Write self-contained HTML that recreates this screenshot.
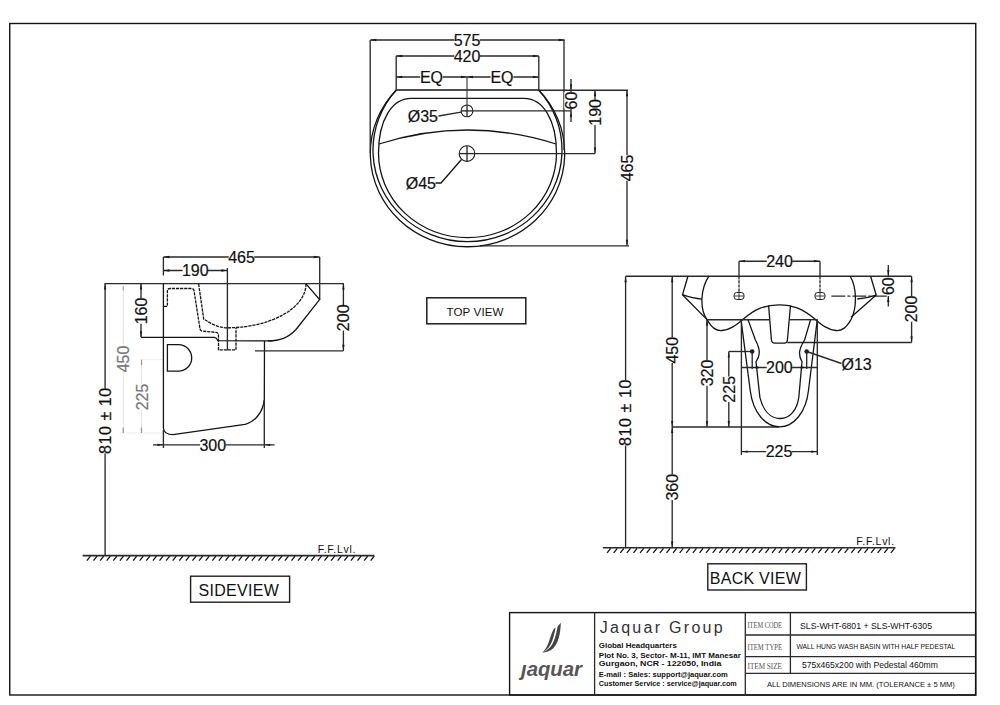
<!DOCTYPE html>
<html><head><meta charset="utf-8"><style>
html,body{margin:0;padding:0;background:#fff;}
svg{display:block;}
</style></head><body>
<svg width="1000" height="705" viewBox="0 0 1000 705">
<rect x="0" y="0" width="1000" height="705" fill="#fff"/>
<rect x="9.75" y="23.5" width="966" height="671.5" fill="none" stroke="#141414" stroke-width="1.4"/>
<path d="M396.4,90 L538.6,90 A97.2,93.2 0 1 1 396.4,90" fill="none" stroke="#141414" stroke-width="1.3" />
<path d="M396.2,90 A94.5,91.6 0 1 0 538.8,90" fill="none" stroke="#141414" stroke-width="1.3" />
<path d="M411,98.4 L524,98.4 C543,98.4 556.5,120 556.5,153 A89,84.7 0 0 1 378.5,153 C378.5,120 392,98.4 411,98.4 Z" fill="none" stroke="#141414" stroke-width="1.3" />
<path d="M379,144 Q467.5,116 556,144" fill="none" stroke="#141414" stroke-width="1.3" />
<circle cx="467" cy="110.9" r="5.9" fill="none" stroke="#1e1e1e" stroke-width="1.1"/>
<line x1="461.1" y1="110.9" x2="472.9" y2="110.9" stroke="#2a2a2a" stroke-width="1.35" />
<line x1="467" y1="105" x2="467" y2="116.8" stroke="#2a2a2a" stroke-width="1.35" />
<circle cx="467" cy="153.6" r="7.8" fill="none" stroke="#1e1e1e" stroke-width="1.1"/>
<line x1="459.2" y1="153.6" x2="474.8" y2="153.6" stroke="#2a2a2a" stroke-width="1.35" />
<line x1="467" y1="145.8" x2="467" y2="161.4" stroke="#2a2a2a" stroke-width="1.35" />
<line x1="467" y1="77" x2="467" y2="105.1" stroke="#333" stroke-width="1.1" />
<line x1="370.2" y1="40" x2="370.2" y2="153" stroke="#2a2a2a" stroke-width="1.35" />
<line x1="564" y1="40" x2="564" y2="150" stroke="#2a2a2a" stroke-width="1.35" />
<line x1="396.2" y1="56" x2="396.2" y2="90" stroke="#2a2a2a" stroke-width="1.35" />
<line x1="538.8" y1="56" x2="538.8" y2="90" stroke="#2a2a2a" stroke-width="1.35" />
<line x1="538.8" y1="90.2" x2="628" y2="90.2" stroke="#2a2a2a" stroke-width="1.35" />
<line x1="473" y1="110.8" x2="571" y2="110.8" stroke="#2a2a2a" stroke-width="1.35" />
<line x1="475" y1="153.6" x2="595" y2="153.6" stroke="#2a2a2a" stroke-width="1.35" />
<line x1="480" y1="245.8" x2="629" y2="245.8" stroke="#2a2a2a" stroke-width="1.35" />
<line x1="370.3" y1="40" x2="564.7" y2="40" stroke="#2a2a2a" stroke-width="1.35" />
<polygon points="370.3,40 376.3,38.85 376.3,41.15" fill="#1a1a1a"/>
<polygon points="564.7,40 558.7,38.85 558.7,41.15" fill="#1a1a1a"/>
<rect x="454.26" y="33.28" width="25.49" height="13.44" fill="#fff"/>
<text transform="translate(467,40) scale(1,1.0)" x="0" y="5.76" font-family="Liberation Sans" font-size="16" text-anchor="middle" fill="#111" stroke="#111" stroke-width="0.2">575</text>
<line x1="396.2" y1="56" x2="538.8" y2="56" stroke="#2a2a2a" stroke-width="1.35" />
<polygon points="396.2,56 402.2,54.85 402.2,57.15" fill="#1a1a1a"/>
<polygon points="538.8,56 532.8,54.85 532.8,57.15" fill="#1a1a1a"/>
<rect x="454.26" y="49.28" width="25.49" height="13.44" fill="#fff"/>
<text transform="translate(467,56) scale(1,1.0)" x="0" y="5.76" font-family="Liberation Sans" font-size="16" text-anchor="middle" fill="#111" stroke="#111" stroke-width="0.2">420</text>
<line x1="396.2" y1="77" x2="538.8" y2="77" stroke="#2a2a2a" stroke-width="1.35" />
<polygon points="396.2,77 402.2,75.85 402.2,78.15" fill="#1a1a1a"/>
<polygon points="538.8,77 532.8,75.85 532.8,78.15" fill="#1a1a1a"/>
<polygon points="467,77 461,75.85 461,78.15" fill="#1a1a1a"/>
<polygon points="467,77 473,75.85 473,78.15" fill="#1a1a1a"/>
<rect x="420.1" y="70.28" width="22.8" height="13.44" fill="#fff"/>
<text transform="translate(431.5,77) scale(1,1.0)" x="0" y="5.76" font-family="Liberation Sans" font-size="16" text-anchor="middle" fill="#111" stroke="#111" stroke-width="0.2">EQ</text>
<rect x="490.6" y="70.28" width="22.8" height="13.44" fill="#fff"/>
<text transform="translate(502,77) scale(1,1.0)" x="0" y="5.76" font-family="Liberation Sans" font-size="16" text-anchor="middle" fill="#111" stroke="#111" stroke-width="0.2">EQ</text>
<line x1="571" y1="79" x2="571" y2="122" stroke="#2a2a2a" stroke-width="1.35" />
<polygon points="571,90.2 569.85,84.2 572.15,84.2" fill="#1a1a1a"/>
<polygon points="571,111 569.85,117 572.15,117" fill="#1a1a1a"/>
<rect x="564.28" y="92.3" width="13.44" height="16.59" fill="#fff"/>
<text transform="translate(571,100.6) rotate(-90) scale(1,1.0)" x="0" y="5.76" font-family="Liberation Sans" font-size="16" text-anchor="middle" fill="#111" stroke="#111" stroke-width="0.2" >60</text>
<line x1="595" y1="90.2" x2="595" y2="153.6" stroke="#2a2a2a" stroke-width="1.35" />
<polygon points="595,90.2 593.85,96.2 596.15,96.2" fill="#1a1a1a"/>
<polygon points="595,153.6 593.85,147.6 596.15,147.6" fill="#1a1a1a"/>
<rect x="588.28" y="99.66" width="13.44" height="25.49" fill="#fff"/>
<text transform="translate(595,112.4) rotate(-90) scale(1,1.0)" x="0" y="5.76" font-family="Liberation Sans" font-size="16" text-anchor="middle" fill="#111" stroke="#111" stroke-width="0.2" >190</text>
<line x1="627" y1="90.2" x2="627" y2="245.8" stroke="#2a2a2a" stroke-width="1.35" />
<polygon points="627,90.2 625.85,96.2 628.15,96.2" fill="#1a1a1a"/>
<polygon points="627,245.8 625.85,239.8 628.15,239.8" fill="#1a1a1a"/>
<rect x="620.28" y="155.26" width="13.44" height="25.49" fill="#fff"/>
<text transform="translate(627,168) rotate(-90) scale(1,1.0)" x="0" y="5.76" font-family="Liberation Sans" font-size="16" text-anchor="middle" fill="#111" stroke="#111" stroke-width="0.2" >465</text>
<line x1="461" y1="112.2" x2="438.5" y2="116" stroke="#2a2a2a" stroke-width="1.35" />
<text transform="translate(438,121.6) scale(1,1.0)" x="0" y="0" font-family="Liberation Sans" font-size="16" text-anchor="end" fill="#111" stroke="#111" stroke-width="0.2">Ø35</text>
<path d="M461.5,159.5 L441,183 L435.5,183" fill="none" stroke="#141414" stroke-width="1.3" />
<text transform="translate(436,188.8) scale(1,1.0)" x="0" y="0" font-family="Liberation Sans" font-size="16" text-anchor="end" fill="#111" stroke="#111" stroke-width="0.2">Ø45</text>
<rect x="426.8" y="297.8" width="99" height="26" fill="none" stroke="#1e1e1e" stroke-width="1.5"/>
<text x="446.5" y="315.8" font-family="Liberation Sans" font-size="11.6" font-weight="normal" text-anchor="start" fill="#111" textLength="57" lengthAdjust="spacing">TOP VIEW</text>
<line x1="82.6" y1="555.6" x2="374.4" y2="555.6" stroke="#2a2a2a" stroke-width="1.6" />
<path d="M86.9,560.6L90.5,556.2M93.5,560.6L97.1,556.2M100.1,560.6L103.7,556.2M106.7,560.6L110.3,556.2M113.3,560.6L116.9,556.2M119.9,560.6L123.5,556.2M126.5,560.6L130.1,556.2M133.1,560.6L136.7,556.2M139.7,560.6L143.3,556.2M146.3,560.6L149.9,556.2M152.9,560.6L156.5,556.2M159.5,560.6L163.1,556.2M166.1,560.6L169.7,556.2M172.7,560.6L176.3,556.2M179.3,560.6L182.9,556.2M185.9,560.6L189.5,556.2M192.5,560.6L196.1,556.2M199.1,560.6L202.7,556.2M205.7,560.6L209.3,556.2M212.3,560.6L215.9,556.2M218.9,560.6L222.5,556.2M225.5,560.6L229.1,556.2M232.1,560.6L235.7,556.2M238.7,560.6L242.3,556.2M245.3,560.6L248.9,556.2M251.9,560.6L255.5,556.2M258.5,560.6L262.1,556.2M265.1,560.6L268.7,556.2M271.7,560.6L275.3,556.2M278.3,560.6L281.9,556.2M284.9,560.6L288.5,556.2M291.5,560.6L295.1,556.2M298.1,560.6L301.7,556.2M304.7,560.6L308.3,556.2M311.3,560.6L314.9,556.2M317.9,560.6L321.5,556.2M324.5,560.6L328.1,556.2M331.1,560.6L334.7,556.2M337.7,560.6L341.3,556.2M344.3,560.6L347.9,556.2M350.9,560.6L354.5,556.2M357.5,560.6L361.1,556.2M364.1,560.6L367.7,556.2M370.7,560.6L374.3,556.2" fill="none" stroke="#141414" stroke-width="1.3" />
<text x="317.8" y="552.6" font-family="Liberation Sans" font-size="10.5" font-weight="normal" text-anchor="start" fill="#111" textLength="37.6" lengthAdjust="spacing">F.F.Lvl.</text>
<line x1="105.1" y1="283.6" x2="105.1" y2="555.6" stroke="#2a2a2a" stroke-width="1.35" />
<polygon points="105.1,283.6 103.95,289.6 106.25,289.6" fill="#1a1a1a"/>
<rect x="98.38" y="388.5" width="13.44" height="64.8" fill="#fff"/>
<text transform="translate(105.1,420.9) rotate(-90) scale(1,1.0)" x="0" y="5.76" font-family="Liberation Sans" font-size="16" text-anchor="middle" fill="#111" stroke="#111" stroke-width="0.2" textLength="66" lengthAdjust="spacing">810 ± 10</text>
<line x1="104.5" y1="283.6" x2="343.8" y2="283.6" stroke="#2a2a2a" stroke-width="1.35" />
<line x1="123.3" y1="286" x2="123.3" y2="433" stroke="#e4e4e4" stroke-width="1.0" />
<rect x="116.78" y="346.26" width="13.44" height="25.49" fill="#fff"/>
<text transform="translate(123.5,359) rotate(-90) scale(1,1.0)" x="0" y="5.76" font-family="Liberation Sans" font-size="16" text-anchor="middle" fill="#777" stroke="#777" stroke-width="0.2" >450</text>
<line x1="141.5" y1="359.7" x2="141.5" y2="433" stroke="#e4e4e4" stroke-width="1.0" />
<rect x="135.28" y="384.26" width="13.44" height="25.49" fill="#fff"/>
<text transform="translate(142,397) rotate(-90) scale(1,1.0)" x="0" y="5.76" font-family="Liberation Sans" font-size="16" text-anchor="middle" fill="#777" stroke="#777" stroke-width="0.2" >225</text>
<line x1="141.5" y1="359.7" x2="163" y2="359.7" stroke="#ececec" stroke-width="1.0" />
<line x1="120" y1="433" x2="163" y2="433" stroke="#ececec" stroke-width="1.0" />
<line x1="123.3" y1="427.5" x2="123.3" y2="433" stroke="#999" stroke-width="1.3" />
<line x1="141.5" y1="427.5" x2="141.5" y2="433" stroke="#999" stroke-width="1.3" />
<line x1="141.5" y1="359.7" x2="141.5" y2="365" stroke="#999" stroke-width="1.3" />
<line x1="123.3" y1="286" x2="123.3" y2="290.5" stroke="#aaa" stroke-width="1.3" />
<line x1="141" y1="283.6" x2="141" y2="337.3" stroke="#2a2a2a" stroke-width="1.35" />
<polygon points="141,283.6 139.85,289.6 142.15,289.6" fill="#1a1a1a"/>
<polygon points="141,337.3 139.85,331.3 142.15,331.3" fill="#1a1a1a"/>
<rect x="134.78" y="298.26" width="13.44" height="25.49" fill="#fff"/>
<text transform="translate(141.5,311) rotate(-90) scale(1,1.0)" x="0" y="5.76" font-family="Liberation Sans" font-size="16" text-anchor="middle" fill="#111" stroke="#111" stroke-width="0.2" >160</text>
<path d="M141,337.3 L214.5,337.3 Q216.5,337.5 217.9,340.7 L272.4,340.9" fill="none" stroke="#141414" stroke-width="1.3" />
<path d="M163.4,283.6 L163.4,428 Q164,434.7 173,434.7 L245,424.3 C255,422 263,412 264.3,399.6 L264.5,340.9" fill="none" stroke="#141414" stroke-width="1.3" />
<line x1="163.4" y1="257" x2="163.4" y2="275.5" stroke="#2a2a2a" stroke-width="1.35" />
<line x1="319.7" y1="257" x2="319.7" y2="299.8" stroke="#2a2a2a" stroke-width="1.35" />
<line x1="163.4" y1="257" x2="319.7" y2="257" stroke="#2a2a2a" stroke-width="1.35" />
<polygon points="163.4,257 169.4,255.85 169.4,258.15" fill="#1a1a1a"/>
<polygon points="319.7,257 313.7,255.85 313.7,258.15" fill="#1a1a1a"/>
<rect x="228.76" y="250.28" width="25.49" height="13.44" fill="#fff"/>
<text transform="translate(241.5,257) scale(1,1.0)" x="0" y="5.76" font-family="Liberation Sans" font-size="16" text-anchor="middle" fill="#111" stroke="#111" stroke-width="0.2">465</text>
<line x1="163.4" y1="270.5" x2="227.4" y2="270.5" stroke="#2a2a2a" stroke-width="1.35" />
<polygon points="163.4,270.5 169.4,269.35 169.4,271.65" fill="#1a1a1a"/>
<polygon points="227.4,270.5 221.4,269.35 221.4,271.65" fill="#1a1a1a"/>
<rect x="182.56" y="263.78" width="25.49" height="13.44" fill="#fff"/>
<text transform="translate(195.3,270.5) scale(1,1.0)" x="0" y="5.76" font-family="Liberation Sans" font-size="16" text-anchor="middle" fill="#111" stroke="#111" stroke-width="0.2">190</text>
<line x1="227.4" y1="268" x2="227.4" y2="350.4" stroke="#2a2a2a" stroke-width="1.35" />
<path d="M306,283.8 L319.6,299.6 L296,329.5 C288,338 280,340.9 268,340.9" fill="none" stroke="#141414" stroke-width="1.3" />
<path d="M306,283.8 A79,44 0 0 1 227,327.8 C218,327.8 210,323 207,321 L203.7,319 L198.6,283.8" fill="none" stroke="#141414" stroke-width="1.3" stroke-dasharray="3.2,0.9"/>
<path d="M164,306.3 L167.4,306.3 L167.4,291 Q167.4,288.5 170,288.5 L191.5,288.5 Q193.5,288.5 194,290.5 L200,329 Q200.5,331 203,331.2 L216,332.4 Q218.5,332.8 218.5,335 L218.5,349.8 L236,349.8 L236,327.7" fill="none" stroke="#141414" stroke-width="1.3" stroke-dasharray="3.2,0.9"/>
<line x1="255" y1="350.8" x2="343.4" y2="350.8" stroke="#2a2a2a" stroke-width="1.35" />
<line x1="343.4" y1="283.6" x2="343.4" y2="350.8" stroke="#2a2a2a" stroke-width="1.35" />
<polygon points="343.4,283.6 342.25,289.6 344.55,289.6" fill="#1a1a1a"/>
<polygon points="343.4,350.8 342.25,344.8 344.55,344.8" fill="#1a1a1a"/>
<rect x="336.88" y="305.06" width="13.44" height="25.49" fill="#fff"/>
<text transform="translate(343.6,317.8) rotate(-90) scale(1,1.0)" x="0" y="5.76" font-family="Liberation Sans" font-size="16" text-anchor="middle" fill="#111" stroke="#111" stroke-width="0.2" >200</text>
<path d="M167.4,344.7 L178.5,344.7 A13.2,13.2 0 0 1 178.5,371.1 L167.4,371.1 Z" fill="none" stroke="#141414" stroke-width="1.3" />
<line x1="153" y1="444.8" x2="274.6" y2="444.8" stroke="#2a2a2a" stroke-width="1.35" />
<polygon points="163.4,444.8 157.4,443.65 157.4,445.95" fill="#1a1a1a"/>
<polygon points="264.3,444.8 270.3,443.65 270.3,445.95" fill="#1a1a1a"/>
<line x1="163.4" y1="430" x2="163.4" y2="448" stroke="#2a2a2a" stroke-width="1.35" />
<line x1="264.3" y1="400" x2="264.3" y2="448" stroke="#2a2a2a" stroke-width="1.35" />
<rect x="200.06" y="438.78" width="25.49" height="13.44" fill="#fff"/>
<text transform="translate(212.8,445.5) scale(1,1.0)" x="0" y="5.76" font-family="Liberation Sans" font-size="16" text-anchor="middle" fill="#111" stroke="#111" stroke-width="0.2">300</text>
<rect x="190.6" y="576.2" width="99" height="26" fill="none" stroke="#1e1e1e" stroke-width="1.4"/>
<text x="198.5" y="596" font-family="Liberation Sans" font-size="16" font-weight="normal" text-anchor="start" fill="#111" textLength="80.3" lengthAdjust="spacing">SIDEVIEW</text>
<line x1="602.8" y1="547.8" x2="895.5" y2="547.8" stroke="#2a2a2a" stroke-width="1.6" />
<path d="M607.1,552.8L610.7,548.4M613.7,552.8L617.3,548.4M620.3,552.8L623.9,548.4M626.9,552.8L630.5,548.4M633.5,552.8L637.1,548.4M640.1,552.8L643.7,548.4M646.7,552.8L650.3,548.4M653.3,552.8L656.9,548.4M659.9,552.8L663.5,548.4M666.5,552.8L670.1,548.4M673.1,552.8L676.7,548.4M679.7,552.8L683.3,548.4M686.3,552.8L689.9,548.4M692.9,552.8L696.5,548.4M699.5,552.8L703.1,548.4M706.1,552.8L709.7,548.4M712.7,552.8L716.3,548.4M719.3,552.8L722.9,548.4M725.9,552.8L729.5,548.4M732.5,552.8L736.1,548.4M739.1,552.8L742.7,548.4M745.7,552.8L749.3,548.4M752.3,552.8L755.9,548.4M758.9,552.8L762.5,548.4M765.5,552.8L769.1,548.4M772.1,552.8L775.7,548.4M778.7,552.8L782.3,548.4M785.3,552.8L788.9,548.4M791.9,552.8L795.5,548.4M798.5,552.8L802.1,548.4M805.1,552.8L808.7,548.4M811.7,552.8L815.3,548.4M818.3,552.8L821.9,548.4M824.9,552.8L828.5,548.4M831.5,552.8L835.1,548.4M838.1,552.8L841.7,548.4M844.7,552.8L848.3,548.4M851.3,552.8L854.9,548.4M857.9,552.8L861.5,548.4M864.5,552.8L868.1,548.4M871.1,552.8L874.7,548.4M877.7,552.8L881.3,548.4M884.3,552.8L887.9,548.4M890.9,552.8L894.5,548.4" fill="none" stroke="#141414" stroke-width="1.3" />
<text x="856.3" y="544.5" font-family="Liberation Sans" font-size="10.5" font-weight="normal" text-anchor="start" fill="#111" textLength="37.8" lengthAdjust="spacing">F.F.Lvl.</text>
<line x1="625.6" y1="276.2" x2="625.6" y2="547.8" stroke="#2a2a2a" stroke-width="1.35" />
<polygon points="625.6,276.2 624.45,282.2 626.75,282.2" fill="#1a1a1a"/>
<rect x="618.78" y="380.15" width="13.44" height="65.3" fill="#fff"/>
<text transform="translate(625.5,412.8) rotate(-90) scale(1,1.0)" x="0" y="5.76" font-family="Liberation Sans" font-size="16" text-anchor="middle" fill="#111" stroke="#111" stroke-width="0.2" textLength="66.5" lengthAdjust="spacing">810 ± 10</text>
<line x1="625.6" y1="276.2" x2="911.6" y2="276.2" stroke="#2a2a2a" stroke-width="1.35" />
<line x1="672.2" y1="276.2" x2="672.2" y2="547.5" stroke="#2a2a2a" stroke-width="1.35" />
<polygon points="672.2,276.2 671.05,282.2 673.35,282.2" fill="#1a1a1a"/>
<polygon points="672.2,427 671.05,421 673.35,421" fill="#1a1a1a"/>
<polygon points="672.2,427 671.05,433 673.35,433" fill="#1a1a1a"/>
<polygon points="672.2,547.5 671.05,541.5 673.35,541.5" fill="#1a1a1a"/>
<rect x="665.48" y="337.46" width="13.44" height="25.49" fill="#fff"/>
<text transform="translate(672.2,350.2) rotate(-90) scale(1,1.0)" x="0" y="5.76" font-family="Liberation Sans" font-size="16" text-anchor="middle" fill="#111" stroke="#111" stroke-width="0.2" >450</text>
<rect x="665.48" y="474.46" width="13.44" height="25.49" fill="#fff"/>
<text transform="translate(672.2,487.2) rotate(-90) scale(1,1.0)" x="0" y="5.76" font-family="Liberation Sans" font-size="16" text-anchor="middle" fill="#111" stroke="#111" stroke-width="0.2" >360</text>
<line x1="672.2" y1="427" x2="779" y2="427" stroke="#2a2a2a" stroke-width="1.35" />
<line x1="707" y1="319.6" x2="707" y2="427" stroke="#2a2a2a" stroke-width="1.35" />
<polygon points="707,319.6 705.85,325.6 708.15,325.6" fill="#1a1a1a"/>
<polygon points="707,427 705.85,421 708.15,421" fill="#1a1a1a"/>
<rect x="700.28" y="360.26" width="13.44" height="25.49" fill="#fff"/>
<text transform="translate(707,373) rotate(-90) scale(1,1.0)" x="0" y="5.76" font-family="Liberation Sans" font-size="16" text-anchor="middle" fill="#111" stroke="#111" stroke-width="0.2" >320</text>
<line x1="728.8" y1="351.5" x2="728.8" y2="427" stroke="#2a2a2a" stroke-width="1.35" />
<polygon points="728.8,351.5 727.65,357.5 729.95,357.5" fill="#1a1a1a"/>
<polygon points="728.8,427 727.65,421 729.95,421" fill="#1a1a1a"/>
<rect x="722.08" y="376.56" width="13.44" height="25.49" fill="#fff"/>
<text transform="translate(728.8,389.3) rotate(-90) scale(1,1.0)" x="0" y="5.76" font-family="Liberation Sans" font-size="16" text-anchor="middle" fill="#111" stroke="#111" stroke-width="0.2" >225</text>
<line x1="728.8" y1="351.5" x2="752.2" y2="351.5" stroke="#2a2a2a" stroke-width="1.35" />
<line x1="739" y1="261.2" x2="739" y2="276.2" stroke="#2a2a2a" stroke-width="1.35" />
<line x1="820" y1="261.2" x2="820" y2="276.2" stroke="#2a2a2a" stroke-width="1.35" />
<line x1="739" y1="261.2" x2="820" y2="261.2" stroke="#2a2a2a" stroke-width="1.35" />
<polygon points="739,261.2 745,260.05 745,262.35" fill="#1a1a1a"/>
<polygon points="820,261.2 814,260.05 814,262.35" fill="#1a1a1a"/>
<rect x="766.76" y="254.48" width="25.49" height="13.44" fill="#fff"/>
<text transform="translate(779.5,261.2) scale(1,1.0)" x="0" y="5.76" font-family="Liberation Sans" font-size="16" text-anchor="middle" fill="#111" stroke="#111" stroke-width="0.2">240</text>
<line x1="739" y1="276.2" x2="739" y2="292.5" stroke="#2a2a2a" stroke-width="1.35" stroke-dasharray="3.2,0.9"/>
<line x1="820" y1="276.2" x2="820" y2="292.5" stroke="#2a2a2a" stroke-width="1.35" stroke-dasharray="3.2,0.9"/>
<rect x="734" y="292.5" width="10" height="7" rx="2.8" fill="none" stroke="#1e1e1e" stroke-width="1"/>
<line x1="734" y1="296" x2="744" y2="296" stroke="#2a2a2a" stroke-width="0.9" />
<line x1="739" y1="292.5" x2="739" y2="299.5" stroke="#2a2a2a" stroke-width="0.9" />
<rect x="815" y="292.5" width="10" height="7" rx="2.8" fill="none" stroke="#1e1e1e" stroke-width="1"/>
<line x1="815" y1="296" x2="825" y2="296" stroke="#2a2a2a" stroke-width="0.9" />
<line x1="820" y1="292.5" x2="820" y2="299.5" stroke="#2a2a2a" stroke-width="0.9" />
<line x1="831.4" y1="296.1" x2="886.7" y2="296.1" stroke="#2a2a2a" stroke-width="1.35" stroke-dasharray="14,2,3,2"/>
<line x1="888.3" y1="265" x2="888.3" y2="276.2" stroke="#2a2a2a" stroke-width="1.35" />
<polygon points="888.3,276.2 887.15,270.2 889.45,270.2" fill="#1a1a1a"/>
<line x1="888.3" y1="296.1" x2="888.3" y2="306.5" stroke="#2a2a2a" stroke-width="1.35" />
<polygon points="888.3,296.1 887.15,302.1 889.45,302.1" fill="#1a1a1a"/>
<text transform="translate(888.3,286.2) rotate(-90) scale(1,1.0)" x="0" y="5.76" font-family="Liberation Sans" font-size="16" text-anchor="middle" fill="#111" stroke="#111" stroke-width="0.2" >60</text>
<line x1="911.6" y1="276.2" x2="911.6" y2="342.4" stroke="#2a2a2a" stroke-width="1.35" />
<polygon points="911.6,276.2 910.45,282.2 912.75,282.2" fill="#1a1a1a"/>
<polygon points="911.6,342.4 910.45,336.4 912.75,336.4" fill="#1a1a1a"/>
<rect x="904.88" y="296.26" width="13.44" height="25.49" fill="#fff"/>
<text transform="translate(911.6,309) rotate(-90) scale(1,1.0)" x="0" y="5.76" font-family="Liberation Sans" font-size="16" text-anchor="middle" fill="#111" stroke="#111" stroke-width="0.2" >200</text>
<line x1="787.3" y1="342.5" x2="911.6" y2="342.5" stroke="#2a2a2a" stroke-width="1.35" />
<path d="M687.9,276.2 L682.5,294.7 L707,319.6" fill="none" stroke="#141414" stroke-width="1.3" />
<path d="M870.6,276.2 L876.2,295.1 L851,317.2" fill="none" stroke="#141414" stroke-width="1.3" />
<path d="M682.5,294.7 Q693,298.5 702,299.1" fill="none" stroke="#141414" stroke-width="1.3" />
<path d="M876.2,295.1 Q866,298.5 857.3,299" fill="none" stroke="#141414" stroke-width="1.3" />
<path d="M708.9,276.2 C701,288 699,308 707,319.6 C712,328 716,331 722,330.5 C730,330 736,325 742.8,319.6 C755,309 765,304.8 779,304.8 C793,304.8 803,309 815.5,319.6 C822,325 828,330 836,330.5 C842,331 846,328 851,319.6 C857,308 857,288 850.3,276.2" fill="none" stroke="#141414" stroke-width="1.3" />
<line x1="707" y1="319.7" x2="769.3" y2="319.7" stroke="#2a2a2a" stroke-width="1.35" />
<line x1="789.8" y1="319.7" x2="817.4" y2="319.7" stroke="#2a2a2a" stroke-width="1.35" />
<path d="M768.6,305.5 L771.4,340 Q771.8,343.1 774.5,343.1 L784.5,343.1 Q787.1,343.1 787.4,340 L790.5,305.5" fill="none" stroke="#141414" stroke-width="1.3" />
<path d="M741,319.6 L750.3,391 C753,412 765,426.8 779.7,426.8 C794,426.8 806,412 808.4,391 L817.3,319.6" fill="none" stroke="#141414" stroke-width="1.3" />
<path d="M748,319.6 L755.4,340 Q759.3,347 759.3,352.8 Q759,358 756,361.7 L759.9,397.4 C763,410 770,418.5 780.3,418.5 C790,418.5 797,410 798.8,397.4 L802,361.7 Q799.5,358 799.5,352.8 Q800,347 804.6,340 L810.6,319.6" fill="none" stroke="#141414" stroke-width="1.3" />
<line x1="741.4" y1="319.6" x2="741.4" y2="455" stroke="#2a2a2a" stroke-width="1.35" />
<line x1="817.3" y1="319.6" x2="817.3" y2="455" stroke="#2a2a2a" stroke-width="1.35" />
<line x1="741.4" y1="367.5" x2="817.3" y2="367.5" stroke="#2a2a2a" stroke-width="1.35" />
<polygon points="752.2,367.5 758.2,366.35 758.2,368.65" fill="#1a1a1a"/>
<polygon points="806.7,367.5 800.7,366.35 800.7,368.65" fill="#1a1a1a"/>
<line x1="752.2" y1="351.5" x2="752.2" y2="369" stroke="#2a2a2a" stroke-width="1.35" />
<line x1="806.7" y1="351.5" x2="806.7" y2="369" stroke="#2a2a2a" stroke-width="1.35" />
<rect x="766.66" y="360.78" width="25.49" height="13.44" fill="#fff"/>
<text transform="translate(779.4,367.5) scale(1,1.0)" x="0" y="5.76" font-family="Liberation Sans" font-size="16" text-anchor="middle" fill="#111" stroke="#111" stroke-width="0.2">200</text>
<line x1="741.6" y1="451.6" x2="817.3" y2="451.6" stroke="#2a2a2a" stroke-width="1.35" />
<polygon points="741.6,451.6 747.6,450.45 747.6,452.75" fill="#1a1a1a"/>
<polygon points="817.3,451.6 811.3,450.45 811.3,452.75" fill="#1a1a1a"/>
<rect x="766.26" y="444.88" width="25.49" height="13.44" fill="#fff"/>
<text transform="translate(779,451.6) scale(1,1.0)" x="0" y="5.76" font-family="Liberation Sans" font-size="16" text-anchor="middle" fill="#111" stroke="#111" stroke-width="0.2">225</text>
<circle cx="752.2" cy="351.5" r="2.3" fill="#1e1e1e"/>
<circle cx="806.7" cy="351.5" r="2.3" fill="#1e1e1e"/>
<line x1="806.7" y1="351.5" x2="841.5" y2="363.5" stroke="#2a2a2a" stroke-width="1.35" />
<text transform="translate(841.5,370) scale(1,1.0)" x="0" y="0" font-family="Liberation Sans" font-size="16" text-anchor="start" fill="#111" stroke="#111" stroke-width="0.2">Ø13</text>
<rect x="707.8" y="563.8" width="98.6" height="26.2" fill="none" stroke="#1e1e1e" stroke-width="1.4"/>
<text x="709.8" y="583.6" font-family="Liberation Sans" font-size="16" font-weight="normal" text-anchor="start" fill="#111" textLength="91" lengthAdjust="spacing">BACK VIEW</text>
<rect x="509.6" y="612.6" width="466" height="82.4" fill="none" stroke="#141414" stroke-width="1.4"/>
<line x1="594.6" y1="612.6" x2="594.6" y2="695" stroke="#2a2a2a" stroke-width="1.3" />
<line x1="745.3" y1="612.6" x2="745.3" y2="695" stroke="#2a2a2a" stroke-width="1.3" />
<line x1="790.4" y1="612.6" x2="790.4" y2="673.4" stroke="#2a2a2a" stroke-width="1.3" />
<line x1="745.3" y1="635" x2="975.5" y2="635" stroke="#2a2a2a" stroke-width="1.3" />
<line x1="745.3" y1="656.6" x2="975.5" y2="656.6" stroke="#2a2a2a" stroke-width="1.3" />
<line x1="745.3" y1="673.4" x2="975.5" y2="673.4" stroke="#2a2a2a" stroke-width="1.3" />
<path d="M560.8,622.8 C560.5,634 558.5,643 553,648.5 C550,651.3 546,652.4 542.4,652.6 C546,651 549.5,648.5 551.8,645 C555,640 556.5,632 557.6,626.5 Z" fill="#444"/>
<path d="M555.6,627.2 C554.5,634 553,640 550.5,644.5 C548.5,648.3 545.5,651 542.4,652.6 C545,650 546.8,647 548,644 C550,639 551.5,633 553.5,629.3 Z" fill="#444"/>
<text x="551.5" y="676" font-family="Liberation Sans" font-size="20" font-weight="bold" text-anchor="middle" fill="#555" font-style="italic" textLength="61" lengthAdjust="spacingAndGlyphs">jaquar</text>
<rect x="519" y="656" width="12" height="7.2" fill="#fff"/>
<text x="599.7" y="633" font-family="Liberation Sans" font-size="16" font-weight="normal" text-anchor="start" fill="#333" textLength="124" lengthAdjust="spacing" letter-spacing="1">Jaquar  Group</text>
<text x="598.8" y="648.4" font-family="Liberation Sans" font-size="8" font-weight="bold" text-anchor="start" fill="#111" textLength="78" lengthAdjust="spacingAndGlyphs">Global Headquarters</text>
<text x="598.8" y="658" font-family="Liberation Sans" font-size="8" font-weight="bold" text-anchor="start" fill="#111" textLength="142" lengthAdjust="spacingAndGlyphs">Plot No. 3, Sector- M-11, IMT Manesar</text>
<text x="598.8" y="666.2" font-family="Liberation Sans" font-size="8" font-weight="bold" text-anchor="start" fill="#111" textLength="122.5" lengthAdjust="spacingAndGlyphs">Gurgaon, NCR - 122050, India</text>
<text x="598.8" y="677.2" font-family="Liberation Sans" font-size="8" font-weight="bold" text-anchor="start" fill="#111" textLength="129" lengthAdjust="spacingAndGlyphs">E-mail : Sales: support@jaquar.com</text>
<text x="598.8" y="686" font-family="Liberation Sans" font-size="8" font-weight="bold" text-anchor="start" fill="#111" textLength="138" lengthAdjust="spacingAndGlyphs">Customer Service : service@jaquar.com</text>
<text x="747.5" y="627.8" font-family="Liberation Serif" font-size="7.5" font-weight="normal" text-anchor="start" fill="#505050" textLength="34.5" lengthAdjust="spacingAndGlyphs">ITEM CODE</text>
<text x="747.5" y="650" font-family="Liberation Serif" font-size="7.5" font-weight="normal" text-anchor="start" fill="#505050" textLength="34.5" lengthAdjust="spacingAndGlyphs">ITEM TYPE</text>
<text x="747.5" y="668.6" font-family="Liberation Serif" font-size="7.5" font-weight="normal" text-anchor="start" fill="#505050" textLength="34.5" lengthAdjust="spacingAndGlyphs">ITEM SIZE</text>
<text x="800" y="628.5" font-family="Liberation Sans" font-size="9.2" font-weight="normal" text-anchor="start" fill="#111" textLength="132" lengthAdjust="spacingAndGlyphs">SLS-WHT-6801 + SLS-WHT-6305</text>
<text x="796.4" y="648.9" font-family="Liberation Sans" font-size="7.4" font-weight="normal" text-anchor="start" fill="#111" textLength="159" lengthAdjust="spacingAndGlyphs">WALL HUNG WASH BASIN WITH HALF PEDESTAL</text>
<text x="801.9" y="667.9" font-family="Liberation Sans" font-size="9" font-weight="normal" text-anchor="start" fill="#111" textLength="136" lengthAdjust="spacingAndGlyphs">575x465x200 with Pedestal 460mm</text>
<text x="766.9" y="686.8" font-family="Liberation Sans" font-size="8" font-weight="normal" text-anchor="start" fill="#111" textLength="188" lengthAdjust="spacingAndGlyphs">ALL DIMENSIONS ARE IN MM. (TOLERANCE ± 5 MM)</text>
</svg>
</body></html>
